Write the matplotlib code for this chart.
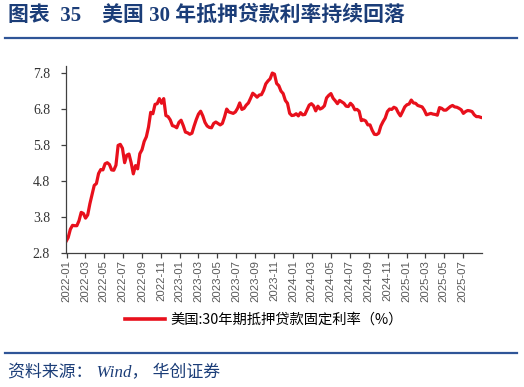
import numpy as np
import pandas as pd
import matplotlib
matplotlib.use('Agg')
import matplotlib.pyplot as plt
import matplotlib.dates as mdates
from matplotlib.lines import Line2D

plt.rcParams['font.family'] = ['Noto Sans CJK SC', 'DejaVu Sans']
plt.rcParams['axes.unicode_minus'] = False

# weekly 30y fixed mortgage rate (%), first obs 2021-12-30
start_date = '2021-12-30'
rates_2021 = [3.11]
rates_2022 = [3.22, 3.45, 3.56, 3.55, 3.55, 3.69, 3.92, 3.89, 3.76, 3.85, 4.16, 4.42, 4.67,
              4.72, 5.00, 5.11, 5.10, 5.27, 5.30, 5.25, 5.10, 5.09, 5.23, 5.78, 5.81, 5.70,
              5.30, 5.51, 5.54, 5.30, 4.99, 5.22, 5.13, 5.55, 5.66, 5.89, 6.02, 6.29, 6.70,
              6.66, 6.92, 6.94, 7.08, 6.95, 7.08, 6.61, 6.58, 6.49, 6.33, 6.31, 6.27, 6.42]
rates_2023 = [6.48, 6.33, 6.15, 6.13, 6.09, 6.12, 6.32, 6.50, 6.65, 6.73, 6.60, 6.42, 6.32,
              6.28, 6.27, 6.39, 6.43, 6.39, 6.35, 6.39, 6.57, 6.79, 6.71, 6.69, 6.67, 6.71,
              6.81, 6.96, 6.78, 6.81, 6.90, 6.96, 7.09, 7.23, 7.18, 7.12, 7.18, 7.19, 7.31,
              7.49, 7.57, 7.63, 7.79, 7.76, 7.50, 7.44, 7.29, 7.22, 7.03, 6.95, 6.67, 6.61]
rates_2024 = [6.62, 6.66, 6.60, 6.69, 6.63, 6.64, 6.77, 6.90, 6.94, 6.88, 6.74, 6.87, 6.79,
              6.82, 6.88, 7.10, 7.17, 7.22, 7.09, 7.02, 6.94, 7.03, 6.99, 6.95, 6.87, 6.86,
              6.95, 6.89, 6.77, 6.78, 6.73, 6.47, 6.49, 6.46, 6.35, 6.35, 6.20, 6.09, 6.08,
              6.12, 6.32, 6.44, 6.54, 6.72, 6.79, 6.78, 6.84, 6.81, 6.69, 6.60, 6.72, 6.85]
rates_2025 = [6.91, 6.93, 7.04, 6.96, 6.95, 6.89, 6.87, 6.85, 6.76, 6.63, 6.65, 6.67, 6.65,
              6.64, 6.62, 6.83, 6.81, 6.76, 6.76, 6.81, 6.86, 6.89, 6.85, 6.84, 6.81, 6.77,
              6.67, 6.72, 6.75, 6.74, 6.72, 6.63, 6.58, 6.58, 6.56]

rates = rates_2021 + rates_2022 + rates_2023 + rates_2024 + rates_2025
dates = pd.date_range(start_date, periods=len(rates), freq='7D')

y_ticks = [2.8, 3.8, 4.8, 5.8, 6.8, 7.8]
series_name = '美国:30年期抵押贷款固定利率（%）'
title_text = '图表  35    美国 30 年抵押贷款利率持续回落'
source_text = '资料来源： Wind， 华创证券'

navy = '#1b3d78'
rule_blue = '#2f5597'
red = '#e8101c'

fig = plt.figure(figsize=(5.24, 3.87), dpi=100)
ax = fig.add_axes([66/524, 1-252.7/387, (482-66)/524, (252.7-65.5)/387])

ax.plot(dates, rates, color=red, lw=2.3, solid_joinstyle='round')

ax.set_ylim(2.8, 8.0)
ax.set_yticks(y_ticks)
ax.set_yticklabels(['%.1f' % v for v in y_ticks], family='Liberation Serif',
                   fontsize=10, color='#333333')
ax.set_xlim(dates[0], pd.Timestamp('2025-09-01'))
ax.xaxis.set_major_locator(mdates.MonthLocator(bymonth=[1, 3, 5, 7, 9, 11]))
ax.xaxis.set_major_formatter(mdates.DateFormatter('%Y-%m'))
# last tick at 2025-09 is the axis end and not labelled in the reference
ticks = [t for t in ax.get_xticks() if t < mdates.date2num(pd.Timestamp('2025-08-01'))]
ax.set_xticks(ticks)
for lab in ax.get_xticklabels():
    lab.set_rotation(90)
    lab.set_family('Liberation Sans')
    lab.set_fontsize(8.2)
    lab.set_color('#595959')

for s in ['top', 'right']:
    ax.spines[s].set_visible(False)
for s in ['left', 'bottom']:
    ax.spines[s].set_color('#404040')
    ax.spines[s].set_linewidth(0.9)
ax.tick_params(axis='both', direction='out', length=3.5, width=0.9, color='#404040')
ax.tick_params(axis='x', pad=2)
ax.tick_params(axis='y', pad=8)

handle = Line2D([], [], color=red, lw=2.6)
fig.legend([handle], [series_name], loc='center', bbox_to_anchor=(264/524, 1-320/387),
           frameon=False, handlelength=2.8, handletextpad=0.4,
           prop={'family': ['Noto Sans CJK SC', 'DejaVu Sans'], 'size': 10.3})

# title and rules
fig.text(8/524, 1-16/387, title_text, fontsize=15, fontweight='bold', color=navy,
         family=['Liberation Serif', 'Noto Sans CJK SC'], va='center', ha='left')
fig.add_artist(Line2D([5/524, 517/524], [1-38/387, 1-38/387], color=rule_blue, lw=1.6))
fig.add_artist(Line2D([5/524, 517/524], [1-352.5/387, 1-352.5/387], color=rule_blue, lw=1.6))
fig.text(8/524, 1-373/387, source_text, fontsize=12.2, style='italic', color=navy,
         family=['Liberation Serif', 'Noto Sans CJK SC'], va='center', ha='left')

fig.savefig('out.png', dpi=100)
